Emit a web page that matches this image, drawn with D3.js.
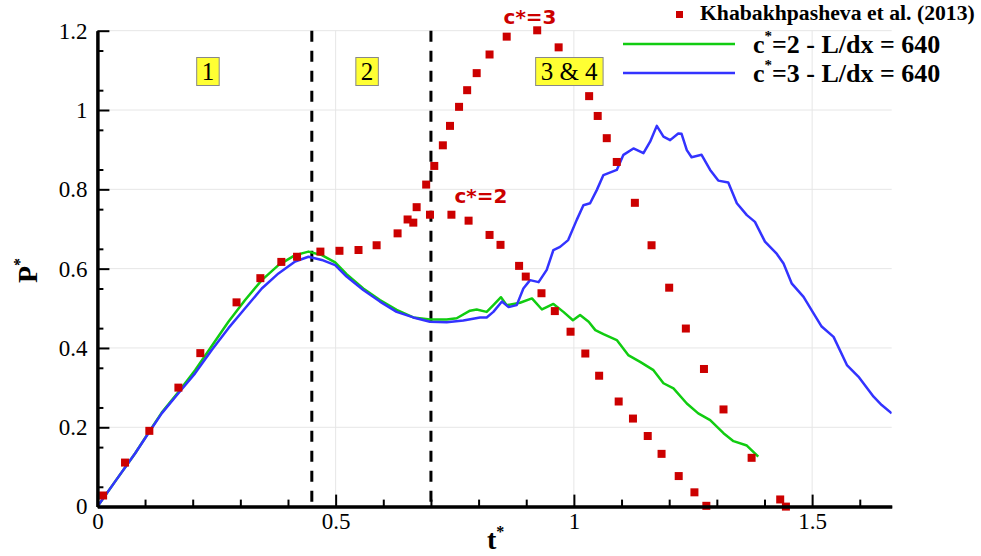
<!DOCTYPE html>
<html>
<head>
<meta charset="utf-8">
<script src="https://cdn.jsdelivr.net/npm/d3@7"></script>
<style>
  body { margin: 0; background: #ffffff; }
  svg { display: block; }
</style>
</head>
<body>
<svg id="chart" width="981" height="556"></svg>
<script>
"use strict";

const khabT = [0.012, 0.058, 0.109, 0.170, 0.216, 0.292, 0.342, 0.386, 0.419, 0.468, 0.508, 0.548, 0.586, 0.630,
               0.651, 0.663, 0.670, 0.690, 0.698, 0.707, 0.725, 0.740, 0.759, 0.776, 0.796, 0.823, 0.859, 0.923,
               0.968, 1.032, 1.050, 1.069, 1.090, 1.128, 1.163, 1.200, 1.235, 1.273, 1.314, 1.373, 1.433, 1.445,
               0.743, 0.779, 0.823, 0.846, 0.885, 0.899, 0.932, 0.960, 0.993, 1.024, 1.053, 1.094, 1.124, 1.155,
               1.184, 1.220, 1.253, 1.278];
const khabP = [0.028, 0.111, 0.191, 0.300, 0.387, 0.515, 0.576, 0.617, 0.630, 0.643, 0.645, 0.647, 0.659, 0.689,
               0.724, 0.716, 0.755, 0.812, 0.736, 0.859, 0.911, 0.960, 1.008, 1.050, 1.093, 1.140, 1.185, 1.201,
               1.158, 1.035, 0.985, 0.929, 0.869, 0.766, 0.659, 0.552, 0.449, 0.347, 0.245, 0.123, 0.018, 0.000,
               0.736, 0.721, 0.685, 0.660, 0.607, 0.580, 0.538, 0.493, 0.441, 0.386, 0.330, 0.265, 0.222, 0.178,
               0.133, 0.077, 0.036, 0.002];

// c*=2 - L/dx = 640
const c2T = [0.000, 0.037, 0.079, 0.107, 0.135, 0.170, 0.205, 0.240, 0.275, 0.310, 0.345, 0.380, 0.415, 0.443,
             0.471, 0.499, 0.523, 0.558, 0.593, 0.628, 0.663, 0.698, 0.733, 0.754, 0.782, 0.796, 0.817, 0.831,
             0.847, 0.859, 0.887, 0.912, 0.933, 0.957, 0.978, 0.998, 1.013, 1.031, 1.045, 1.062, 1.090, 1.114,
             1.139, 1.167, 1.188, 1.209, 1.237, 1.261, 1.286, 1.314, 1.335, 1.363, 1.387];
const c2P = [0.000, 0.063, 0.134, 0.186, 0.237, 0.289, 0.344, 0.405, 0.466, 0.521, 0.571, 0.609, 0.634, 0.643,
             0.634, 0.616, 0.586, 0.550, 0.521, 0.496, 0.477, 0.472, 0.472, 0.475, 0.494, 0.497, 0.491, 0.508,
             0.528, 0.508, 0.514, 0.525, 0.497, 0.511, 0.491, 0.470, 0.483, 0.466, 0.445, 0.435, 0.420, 0.382,
             0.365, 0.344, 0.311, 0.298, 0.260, 0.235, 0.218, 0.185, 0.165, 0.154, 0.126];

// c*=3 - L/dx = 640
const c3T = [0.000, 0.037, 0.079, 0.107, 0.135, 0.170, 0.205, 0.240, 0.275, 0.310, 0.345, 0.380, 0.415, 0.443,
             0.471, 0.499, 0.523, 0.558, 0.593, 0.628, 0.663, 0.698, 0.733, 0.768, 0.803, 0.817, 0.831, 0.849,
             0.863, 0.880, 0.894, 0.908, 0.926, 0.943, 0.957, 0.971, 0.988, 1.006, 1.020, 1.034, 1.048, 1.062,
             1.090, 1.104, 1.125, 1.146, 1.160, 1.174, 1.188, 1.202, 1.219, 1.226, 1.237, 1.247, 1.268, 1.286,
             1.303, 1.324, 1.342, 1.363, 1.380, 1.401, 1.426, 1.440, 1.457, 1.482, 1.503, 1.520, 1.545, 1.573,
             1.597, 1.629, 1.646, 1.667];
const c3P = [0.000, 0.063, 0.134, 0.185, 0.235, 0.286, 0.336, 0.395, 0.450, 0.500, 0.550, 0.588, 0.618, 0.630,
             0.622, 0.609, 0.580, 0.546, 0.517, 0.491, 0.477, 0.466, 0.465, 0.469, 0.477, 0.477, 0.491, 0.517,
             0.503, 0.508, 0.550, 0.571, 0.566, 0.597, 0.647, 0.655, 0.672, 0.723, 0.760, 0.765, 0.798, 0.836,
             0.849, 0.887, 0.903, 0.891, 0.920, 0.960, 0.933, 0.924, 0.941, 0.940, 0.899, 0.881, 0.887, 0.849,
             0.822, 0.817, 0.765, 0.735, 0.718, 0.668, 0.637, 0.613, 0.563, 0.529, 0.487, 0.454, 0.428, 0.357,
             0.328, 0.277, 0.256, 0.235];

const xMajor = [0, 0.5, 1, 1.5];
const yMajor = [0, 0.2, 0.4, 0.6, 0.8, 1, 1.2];
const phaseLines = [0.45, 0.70];
const phaseLabels = ["1", "2", "3 & 4"];
const phaseLabelT = [0.232, 0.566, 0.990];
const legendLabels = ["Khabakhpasheva et al. (2013)", "=2 - L/dx = 640", "=3 - L/dx = 640"];

const plotLeft = 97.4, plotRight = 891.7, plotTop = 30.7, plotBottom = 506.6;
const serif = "'Liberation Serif', 'Times New Roman', serif";
const sans = "'DejaVu Sans', sans-serif";
const red = "#cc0000", green = "#11cc11", blue = "#3333ff";

const svg = d3.select("#chart");
const x = d3.scaleLinear().domain([0, 1.667]).range([plotLeft, plotRight]);
const y = d3.scaleLinear().domain([0, 1.2]).range([plotBottom, plotTop]);

// grid
svg.append("g").selectAll("line").data(yMajor.slice(1)).join("line")
    .attr("x1", plotLeft).attr("x2", plotRight).attr("y1", d => y(d)).attr("y2", d => y(d))
    .attr("stroke", "#e6e6e6").attr("stroke-width", 1);
svg.append("g").selectAll("line").data(xMajor.slice(1)).join("line")
    .attr("x1", d => x(d)).attr("x2", d => x(d)).attr("y1", plotTop).attr("y2", plotBottom)
    .attr("stroke", "#e6e6e6").attr("stroke-width", 1);

// dashed phase separators
svg.append("g").selectAll("line").data(phaseLines).join("line")
    .attr("x1", d => x(d)).attr("x2", d => x(d)).attr("y1", plotTop).attr("y2", plotBottom)
    .attr("stroke", "#000").attr("stroke-width", 3).attr("stroke-dasharray", "11,9");

// simulation curves
svg.append("clipPath").attr("id", "plotclip").append("rect")
    .attr("x", plotLeft).attr("y", plotTop - 5).attr("width", plotRight - plotLeft).attr("height", plotBottom - plotTop + 5);
const line = d3.line().x(d => x(d[0])).y(d => y(d[1]));
svg.append("path").datum(d3.zip(c2T, c2P)).attr("d", line)
    .attr("fill", "none").attr("stroke", green).attr("stroke-width", 2.5)
    .attr("stroke-linejoin", "round").attr("clip-path", "url(#plotclip)");
svg.append("path").datum(d3.zip(c3T, c3P)).attr("d", line)
    .attr("fill", "none").attr("stroke", blue).attr("stroke-width", 2.5)
    .attr("stroke-linejoin", "round").attr("clip-path", "url(#plotclip)");

// experiment markers
const sq = 8;
svg.append("g").selectAll("rect").data(d3.zip(khabT, khabP)).join("rect")
    .attr("x", d => x(d[0]) - sq / 2).attr("y", d => y(d[1]) - sq / 2)
    .attr("width", sq).attr("height", sq).attr("fill", red);

// axes: major ticks pointing inside, minor ticks shorter
const xAxis = d3.axisBottom(x).tickValues(xMajor).tickSize(-12).tickSizeOuter(0).tickPadding(6)
    .tickFormat(d3.format("~g"));
const xMinor = d3.axisBottom(x).tickValues(d3.range(0.1, 1.67, 0.1).filter(v => Math.abs(v * 2 - Math.round(v * 2)) > 1e-6))
    .tickSize(-7).tickSizeOuter(0).tickFormat("");
const yAxis = d3.axisLeft(y).tickValues(yMajor).tickSize(-12).tickSizeOuter(0).tickPadding(10)
    .tickFormat(d3.format("~g"));
const yMinor = d3.axisLeft(y).tickValues(d3.range(0.05, 1.2, 0.1)).tickSize(-6).tickSizeOuter(0).tickFormat("");

function styleAxis(g) {
    g.selectAll("line").attr("stroke", "#000").attr("stroke-width", 2);
    g.select(".domain").attr("stroke", "#000").attr("stroke-width", 3);
    g.selectAll("text").attr("font-family", serif).attr("font-size", 23).attr("fill", "#000");
}
svg.append("g").attr("transform", `translate(0,${plotBottom})`).call(xMinor).call(styleAxis);
svg.append("g").attr("transform", `translate(${plotLeft},0)`).call(yMinor).call(styleAxis);
svg.append("g").attr("transform", `translate(0,${plotBottom})`).call(xAxis).call(styleAxis);
svg.append("g").attr("transform", `translate(${plotLeft},0)`).call(yAxis).call(styleAxis);

// axis titles
const tTitle = svg.append("text").attr("x", 487).attr("y", 549)
    .attr("font-family", serif).attr("font-weight", "bold").attr("font-size", 28);
tTitle.append("tspan").text("t");
tTitle.append("tspan").attr("dy", -12).attr("font-size", 16).text("*");
const pTitle = svg.append("text").attr("transform", "translate(37,283) rotate(-90)")
    .attr("font-family", serif).attr("font-weight", "bold").attr("font-size", 28);
pTitle.append("tspan").text("P");
pTitle.append("tspan").attr("dy", -12).attr("font-size", 16).text("*");

// phase boxes
phaseLabels.forEach(function(lbl, i) {
    let g = svg.append("g");
    let txt = g.append("text").attr("x", x(phaseLabelT[i])).attr("y", 80)
        .attr("text-anchor", "middle").attr("font-family", serif).attr("font-size", 25).text(lbl);
    let bb = txt.node().getBBox();
    g.insert("rect", "text").attr("x", bb.x - 5).attr("y", 57.5).attr("width", bb.width + 10).attr("height", 28)
        .attr("fill", "#ffff33").attr("stroke", "#888").attr("stroke-width", 1);
});

// red annotations
svg.append("text").attr("x", x(0.908)).attr("y", y(1.217)).attr("text-anchor", "middle")
    .attr("font-family", sans).attr("font-weight", "bold").attr("font-size", 20).attr("fill", red).text("c*=3");
svg.append("text").attr("x", x(0.805)).attr("y", y(0.765)).attr("text-anchor", "middle")
    .attr("font-family", sans).attr("font-weight", "bold").attr("font-size", 20).attr("fill", red).text("c*=2");

// legend
svg.append("rect").attr("x", 676).attr("y", 11).attr("width", 7).attr("height", 7).attr("fill", red);
svg.append("text").attr("x", 700).attr("y", 20).attr("font-family", serif).attr("font-weight", "bold")
    .attr("font-size", 21.7).text(legendLabels[0]);
[green, blue].forEach(function(col, i) {
    let ly = 44 + i * 29;
    svg.append("line").attr("x1", 623).attr("x2", 735).attr("y1", ly).attr("y2", ly)
        .attr("stroke", col).attr("stroke-width", 2.5);
    let t = svg.append("text").attr("x", 753).attr("y", ly + 9).attr("font-family", serif)
        .attr("font-weight", "bold").attr("font-size", 26);
    t.append("tspan").text("c");
    t.append("tspan").attr("dy", -12).attr("font-size", 15).text("*");
    t.append("tspan").attr("dy", 12).text(legendLabels[i + 1]);
});
</script>
</body>
</html>
